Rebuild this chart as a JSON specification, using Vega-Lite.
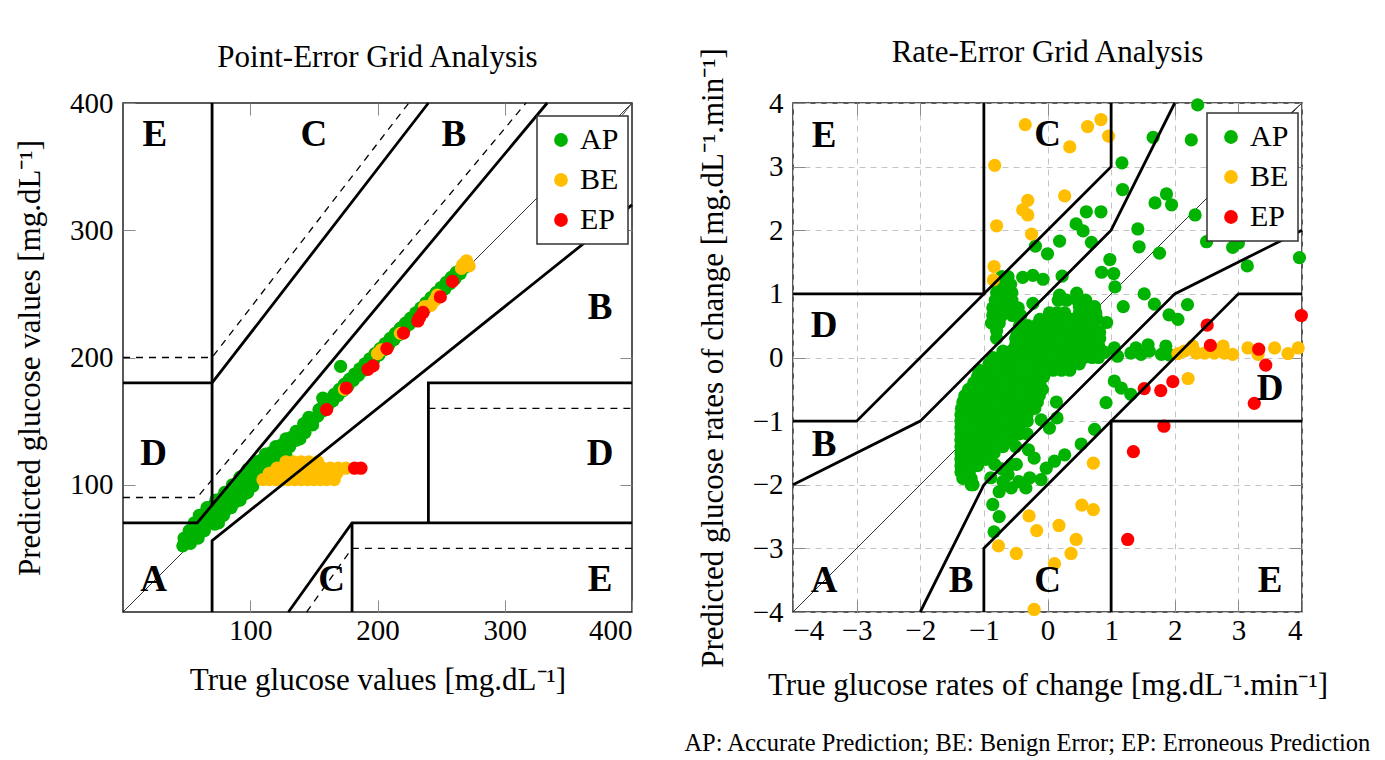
{
  "$schema": "https://vega.github.io/schema/vega-lite/v6.json",
  "description": "Point-Error and Rate-Error Grid Analysis (CG-EGA)",
  "padding": {"left": 13, "top": 35, "right": 5, "bottom": 5},
  "bounds": "flush",
  "spacing": 161,
  "title": {
    "text": "AP: Accurate Prediction; BE: Benign Error; EP: Erroneous Prediction",
    "orient": "bottom",
    "anchor": "end",
    "fontSize": 24.5,
    "offset": 31,
    "dx": 42
  },
  "datasets": {
    "pz": [
      {"s": "a", "o": 1, "x": 0, "y": 70}, {"s": "a", "o": 2, "x": 58.33, "y": 70}, {"s": "a", "o": 3, "x": 333.33, "y": 400},
      {"s": "b", "o": 1, "x": 70, "y": 84}, {"s": "b", "o": 2, "x": 70, "y": 400},
      {"s": "c", "o": 1, "x": 0, "y": 180}, {"s": "c", "o": 2, "x": 70, "y": 180}, {"s": "c", "o": 3, "x": 240, "y": 400},
      {"s": "d", "o": 1, "x": 70, "y": 0}, {"s": "d", "o": 2, "x": 70, "y": 56}, {"s": "d", "o": 3, "x": 400, "y": 320},
      {"s": "e", "o": 1, "x": 130, "y": 0}, {"s": "e", "o": 2, "x": 180, "y": 70}, {"s": "e", "o": 3, "x": 400, "y": 70},
      {"s": "f", "o": 1, "x": 180, "y": 0}, {"s": "f", "o": 2, "x": 180, "y": 70},
      {"s": "g", "o": 1, "x": 240, "y": 70}, {"s": "g", "o": 2, "x": 240, "y": 180}, {"s": "g", "o": 3, "x": 400, "y": 180}
    ],
    "pd": [
      {"s": "a", "o": 1, "x": 0, "y": 90}, {"s": "a", "o": 2, "x": 58.33, "y": 90}, {"s": "a", "o": 3, "x": 316.67, "y": 400},
      {"s": "b", "o": 1, "x": 0, "y": 200}, {"s": "b", "o": 2, "x": 70, "y": 200}, {"s": "b", "o": 3, "x": 224.6, "y": 400},
      {"s": "c", "o": 1, "x": 144.3, "y": 0}, {"s": "c", "o": 2, "x": 180, "y": 50}, {"s": "c", "o": 3, "x": 400, "y": 50},
      {"s": "d", "o": 1, "x": 240, "y": 160}, {"s": "d", "o": 2, "x": 400, "y": 160}
    ],
    "pdiag": [{"o": 1, "x": 0, "y": 0}, {"o": 2, "x": 400, "y": 400}],
    "pbox": [{"o": 1, "x": 392.5, "y": 390.5}, {"o": 2, "x": 400, "y": 400}],
    "plab": [
      {"x": 25, "y": 375, "t": "E"}, {"x": 150, "y": 375, "t": "C"}, {"x": 260, "y": 375, "t": "B"},
      {"x": 375, "y": 239, "t": "B"}, {"x": 24, "y": 124, "t": "D"}, {"x": 375, "y": 124, "t": "D"},
      {"x": 24, "y": 25, "t": "A"}, {"x": 164, "y": 25, "t": "C"}, {"x": 375, "y": 25, "t": "E"}
    ],
    "pp": [
      {"x": 47, "y": 52, "c": "AP"}, {"x": 50, "y": 55, "c": "AP"}, {"x": 53, "y": 54, "c": "AP"},
      {"x": 48, "y": 58, "c": "AP"}, {"x": 52, "y": 57, "c": "AP"}, {"x": 56, "y": 59, "c": "AP"}, {"x": 59, "y": 58, "c": "AP"},
      {"x": 52, "y": 64, "c": "AP"}, {"x": 56, "y": 65, "c": "AP"}, {"x": 60, "y": 63, "c": "AP"}, {"x": 64, "y": 64, "c": "AP"},
      {"x": 56, "y": 70, "c": "AP"}, {"x": 60, "y": 71, "c": "AP"}, {"x": 64, "y": 69, "c": "AP"}, {"x": 68, "y": 70, "c": "AP"}, {"x": 72, "y": 69, "c": "AP"}, {"x": 75, "y": 70, "c": "AP"},
      {"x": 60, "y": 76, "c": "AP"}, {"x": 64, "y": 77, "c": "AP"}, {"x": 68, "y": 75, "c": "AP"}, {"x": 72, "y": 76, "c": "AP"}, {"x": 76, "y": 75, "c": "AP"}, {"x": 79, "y": 76, "c": "AP"},
      {"x": 66, "y": 82, "c": "AP"}, {"x": 70, "y": 83, "c": "AP"}, {"x": 74, "y": 81, "c": "AP"}, {"x": 78, "y": 82, "c": "AP"}, {"x": 82, "y": 81, "c": "AP"}, {"x": 85, "y": 82, "c": "AP"},
      {"x": 73, "y": 88, "c": "AP"}, {"x": 77, "y": 89, "c": "AP"}, {"x": 81, "y": 87, "c": "AP"}, {"x": 85, "y": 88, "c": "AP"}, {"x": 89, "y": 87, "c": "AP"}, {"x": 92, "y": 88, "c": "AP"},
      {"x": 80, "y": 94, "c": "AP"}, {"x": 84, "y": 95, "c": "AP"}, {"x": 88, "y": 93, "c": "AP"}, {"x": 92, "y": 94, "c": "AP"}, {"x": 96, "y": 93, "c": "AP"}, {"x": 98, "y": 94, "c": "AP"},
      {"x": 86, "y": 100, "c": "AP"}, {"x": 90, "y": 101, "c": "AP"}, {"x": 94, "y": 99, "c": "AP"}, {"x": 98, "y": 100, "c": "AP"}, {"x": 102, "y": 99, "c": "AP"},
      {"x": 92, "y": 106, "c": "AP"}, {"x": 96, "y": 107, "c": "AP"}, {"x": 100, "y": 105, "c": "AP"}, {"x": 104, "y": 106, "c": "AP"}, {"x": 108, "y": 105, "c": "AP"},
      {"x": 98, "y": 112, "c": "AP"}, {"x": 102, "y": 113, "c": "AP"}, {"x": 106, "y": 111, "c": "AP"}, {"x": 110, "y": 112, "c": "AP"}, {"x": 114, "y": 111, "c": "AP"},
      {"x": 104, "y": 118, "c": "AP"}, {"x": 108, "y": 119, "c": "AP"}, {"x": 112, "y": 117, "c": "AP"}, {"x": 116, "y": 118, "c": "AP"}, {"x": 120, "y": 117, "c": "AP"},
      {"x": 112, "y": 124, "c": "AP"}, {"x": 116, "y": 125, "c": "AP"}, {"x": 120, "y": 123, "c": "AP"}, {"x": 124, "y": 124, "c": "AP"}, {"x": 128, "y": 123, "c": "AP"},
      {"x": 120, "y": 130, "c": "AP"}, {"x": 124, "y": 131, "c": "AP"}, {"x": 128, "y": 129, "c": "AP"}, {"x": 131, "y": 130, "c": "AP"},
      {"x": 128, "y": 136, "c": "AP"}, {"x": 132, "y": 137, "c": "AP"}, {"x": 136, "y": 135, "c": "AP"}, {"x": 139, "y": 136, "c": "AP"},
      {"x": 136, "y": 142, "c": "AP"}, {"x": 140, "y": 143, "c": "AP"}, {"x": 143, "y": 141, "c": "AP"},
      {"x": 142, "y": 148, "c": "AP"}, {"x": 146, "y": 149, "c": "AP"}, {"x": 149, "y": 147, "c": "AP"},
      {"x": 146, "y": 153, "c": "AP"}, {"x": 150, "y": 152, "c": "AP"}, {"x": 153, "y": 154, "c": "AP"},
      {"x": 154, "y": 159, "c": "AP"}, {"x": 157, "y": 158, "c": "AP"}, {"x": 158, "y": 163, "c": "AP"}, {"x": 161, "y": 162, "c": "AP"},
      {"x": 162, "y": 167, "c": "AP"}, {"x": 165, "y": 166, "c": "AP"}, {"x": 166, "y": 171, "c": "AP"}, {"x": 169, "y": 170, "c": "AP"},
      {"x": 170, "y": 175, "c": "AP"}, {"x": 173, "y": 174, "c": "AP"}, {"x": 174, "y": 179, "c": "AP"}, {"x": 177, "y": 178, "c": "AP"},
      {"x": 178, "y": 183, "c": "AP"}, {"x": 181, "y": 182, "c": "AP"}, {"x": 182, "y": 187, "c": "AP"}, {"x": 185, "y": 186, "c": "AP"},
      {"x": 186, "y": 191, "c": "AP"}, {"x": 189, "y": 190, "c": "AP"}, {"x": 190, "y": 195, "c": "AP"}, {"x": 193, "y": 194, "c": "AP"},
      {"x": 194, "y": 199, "c": "AP"}, {"x": 197, "y": 198, "c": "AP"}, {"x": 198, "y": 203, "c": "AP"}, {"x": 201, "y": 202, "c": "AP"},
      {"x": 202, "y": 207, "c": "AP"}, {"x": 205, "y": 206, "c": "AP"}, {"x": 206, "y": 211, "c": "AP"}, {"x": 209, "y": 210, "c": "AP"},
      {"x": 210, "y": 215, "c": "AP"}, {"x": 213, "y": 214, "c": "AP"}, {"x": 214, "y": 219, "c": "AP"}, {"x": 217, "y": 218, "c": "AP"},
      {"x": 218, "y": 223, "c": "AP"}, {"x": 221, "y": 222, "c": "AP"}, {"x": 222, "y": 227, "c": "AP"}, {"x": 225, "y": 226, "c": "AP"},
      {"x": 226, "y": 231, "c": "AP"}, {"x": 229, "y": 230, "c": "AP"}, {"x": 230, "y": 235, "c": "AP"}, {"x": 233, "y": 234, "c": "AP"},
      {"x": 234, "y": 239, "c": "AP"}, {"x": 237, "y": 238, "c": "AP"}, {"x": 238, "y": 243, "c": "AP"}, {"x": 241, "y": 242, "c": "AP"},
      {"x": 242, "y": 247, "c": "AP"}, {"x": 245, "y": 246, "c": "AP"}, {"x": 246, "y": 251, "c": "AP"}, {"x": 249, "y": 250, "c": "AP"},
      {"x": 250, "y": 255, "c": "AP"}, {"x": 253, "y": 254, "c": "AP"}, {"x": 254, "y": 259, "c": "AP"}, {"x": 257, "y": 258, "c": "AP"},
      {"x": 258, "y": 263, "c": "AP"}, {"x": 261, "y": 262, "c": "AP"}, {"x": 262, "y": 267, "c": "AP"}, {"x": 265, "y": 266, "c": "AP"},
      {"x": 266, "y": 270, "c": "AP"}, {"x": 269, "y": 271, "c": "AP"},
      {"x": 157, "y": 168, "c": "AP"}, {"x": 171, "y": 193, "c": "AP"},
      {"x": 110, "y": 104, "c": "BE"}, {"x": 115, "y": 104, "c": "BE"}, {"x": 120, "y": 104, "c": "BE"}, {"x": 125, "y": 104, "c": "BE"},
      {"x": 130, "y": 104, "c": "BE"}, {"x": 135, "y": 104, "c": "BE"}, {"x": 140, "y": 104, "c": "BE"}, {"x": 145, "y": 104, "c": "BE"},
      {"x": 150, "y": 104, "c": "BE"}, {"x": 155, "y": 104, "c": "BE"}, {"x": 160, "y": 104, "c": "BE"}, {"x": 166, "y": 104, "c": "BE"},
      {"x": 115, "y": 109, "c": "BE"}, {"x": 121, "y": 109, "c": "BE"}, {"x": 127, "y": 109, "c": "BE"}, {"x": 133, "y": 109, "c": "BE"},
      {"x": 139, "y": 109, "c": "BE"}, {"x": 145, "y": 109, "c": "BE"}, {"x": 151, "y": 109, "c": "BE"}, {"x": 157, "y": 109, "c": "BE"},
      {"x": 163, "y": 109, "c": "BE"}, {"x": 168, "y": 109, "c": "BE"},
      {"x": 121, "y": 113, "c": "BE"}, {"x": 127, "y": 113, "c": "BE"}, {"x": 133, "y": 113, "c": "BE"}, {"x": 139, "y": 113, "c": "BE"},
      {"x": 145, "y": 113, "c": "BE"}, {"x": 151, "y": 113, "c": "BE"}, {"x": 157, "y": 113, "c": "BE"}, {"x": 163, "y": 113, "c": "BE"},
      {"x": 169, "y": 113, "c": "BE"}, {"x": 175, "y": 113, "c": "BE"},
      {"x": 128, "y": 118, "c": "BE"}, {"x": 134, "y": 118, "c": "BE"}, {"x": 140, "y": 118, "c": "BE"}, {"x": 146, "y": 118, "c": "BE"},
      {"x": 153, "y": 118, "c": "BE"},
      {"x": 174, "y": 175, "c": "BE"}, {"x": 200, "y": 203, "c": "BE"}, {"x": 203, "y": 206, "c": "BE"}, {"x": 218, "y": 219, "c": "BE"},
      {"x": 237, "y": 240, "c": "BE"}, {"x": 242, "y": 241, "c": "BE"}, {"x": 245, "y": 245, "c": "BE"}, {"x": 247, "y": 249, "c": "BE"},
      {"x": 266, "y": 270, "c": "BE"}, {"x": 269, "y": 274, "c": "BE"}, {"x": 272, "y": 272, "c": "BE"}, {"x": 270, "y": 276, "c": "BE"},
      {"x": 267, "y": 273, "c": "BE"},
      {"x": 160, "y": 159, "c": "EP"}, {"x": 175.5, "y": 176, "c": "EP"}, {"x": 192.5, "y": 190.7, "c": "EP"}, {"x": 196.5, "y": 193.4, "c": "EP"},
      {"x": 207.4, "y": 207, "c": "EP"}, {"x": 220.4, "y": 219.2, "c": "EP"}, {"x": 231.7, "y": 228.7, "c": "EP"}, {"x": 233, "y": 231.3, "c": "EP"},
      {"x": 235.8, "y": 235.4, "c": "EP"}, {"x": 249.4, "y": 247.6, "c": "EP"}, {"x": 258.9, "y": 259.8, "c": "EP"},
      {"x": 182, "y": 113, "c": "EP"}, {"x": 187, "y": 113, "c": "EP"}
    ],
    "rz": [
      {"s": "a", "o": 1, "x": -1, "y": 4}, {"s": "a", "o": 2, "x": -1, "y": 1}, {"s": "a", "o": 3, "x": -4, "y": 1},
      {"s": "b", "o": 1, "x": 1, "y": 4}, {"s": "b", "o": 2, "x": 1, "y": 3}, {"s": "b", "o": 3, "x": -3, "y": -1}, {"s": "b", "o": 4, "x": -4, "y": -1},
      {"s": "c", "o": 1, "x": 2, "y": 4}, {"s": "c", "o": 2, "x": 1, "y": 2}, {"s": "c", "o": 3, "x": -2, "y": -1}, {"s": "c", "o": 4, "x": -4, "y": -2},
      {"s": "d", "o": 1, "x": 4, "y": 2}, {"s": "d", "o": 2, "x": 2, "y": 1}, {"s": "d", "o": 3, "x": -1, "y": -2}, {"s": "d", "o": 4, "x": -2, "y": -4},
      {"s": "e", "o": 1, "x": 4, "y": 1}, {"s": "e", "o": 2, "x": 3, "y": 1}, {"s": "e", "o": 3, "x": -1, "y": -3}, {"s": "e", "o": 4, "x": -1, "y": -4},
      {"s": "f", "o": 1, "x": 1, "y": -4}, {"s": "f", "o": 2, "x": 1, "y": -1}, {"s": "f", "o": 3, "x": 4, "y": -1}
    ],
    "rdiag": [{"o": 1, "x": -4, "y": -4}, {"o": 2, "x": 4, "y": 4}],
    "rbox": [{"o": 1, "x": 3.82, "y": 3.84}, {"o": 2, "x": 4, "y": 4}],
    "rlab": [
      {"x": -3.51, "y": 3.48, "t": "E"}, {"x": 0, "y": 3.5, "t": "C"}, {"x": -3.51, "y": 0.49, "t": "D"},
      {"x": -3.51, "y": -1.37, "t": "B"}, {"x": -3.51, "y": -3.51, "t": "A"}, {"x": -1.36, "y": -3.51, "t": "B"},
      {"x": 0, "y": -3.51, "t": "C"}, {"x": 3.5, "y": -3.51, "t": "E"}, {"x": 3.5, "y": -0.5, "t": "D"}
    ],
    "rp": [
      {"x": -0.72, "y": 1.27, "c": "AP"}, {"x": -0.62, "y": 1.27, "c": "AP"},
      {"x": -0.78, "y": 1.15, "c": "AP"}, {"x": -0.68, "y": 1.15, "c": "AP"}, {"x": -0.58, "y": 1.15, "c": "AP"},
      {"x": -0.8, "y": 1.02, "c": "AP"}, {"x": -0.68, "y": 1.02, "c": "AP"}, {"x": -0.56, "y": 1.02, "c": "AP"},
      {"x": -0.82, "y": 0.9, "c": "AP"}, {"x": -0.7, "y": 0.9, "c": "AP"}, {"x": -0.56, "y": 0.9, "c": "AP"},
      {"x": -0.86, "y": 0.78, "c": "AP"}, {"x": -0.74, "y": 0.78, "c": "AP"}, {"x": -0.6, "y": 0.78, "c": "AP"}, {"x": -0.46, "y": 0.78, "c": "AP"},
      {"x": -0.86, "y": 0.66, "c": "AP"}, {"x": -0.72, "y": 0.66, "c": "AP"}, {"x": -0.55, "y": 0.66, "c": "AP"}, {"x": -0.42, "y": 0.66, "c": "AP"},
      {"x": -0.88, "y": 0.54, "c": "AP"}, {"x": -0.76, "y": 0.54, "c": "AP"}, {"x": -0.8, "y": 0.42, "c": "AP"}, {"x": -0.8, "y": 0.3, "c": "AP"},
      {"x": 0.17, "y": 0.9, "c": "AP"}, {"x": 0.3, "y": 0.9, "c": "AP"}, {"x": 0.47, "y": 0.9, "c": "AP"}, {"x": 0.6, "y": 0.9, "c": "AP"},
      {"x": 0.5, "y": 0.8, "c": "AP"}, {"x": 0.63, "y": 0.8, "c": "AP"}, {"x": 0.74, "y": 0.8, "c": "AP"},
      {"x": 0.03, "y": 0.7, "c": "AP"}, {"x": 0.15, "y": 0.7, "c": "AP"}, {"x": 0.27, "y": 0.7, "c": "AP"}, {"x": 0.5, "y": 0.7, "c": "AP"}, {"x": 0.63, "y": 0.7, "c": "AP"}, {"x": 0.76, "y": 0.7, "c": "AP"},
      {"x": -0.12, "y": 0.6, "c": "AP"}, {"x": 0.0, "y": 0.6, "c": "AP"}, {"x": 0.13, "y": 0.6, "c": "AP"}, {"x": 0.26, "y": 0.6, "c": "AP"}, {"x": 0.39, "y": 0.6, "c": "AP"}, {"x": 0.52, "y": 0.6, "c": "AP"}, {"x": 0.65, "y": 0.6, "c": "AP"}, {"x": 0.78, "y": 0.6, "c": "AP"},
      {"x": -0.44, "y": 0.5, "c": "AP"}, {"x": -0.31, "y": 0.5, "c": "AP"}, {"x": -0.18, "y": 0.5, "c": "AP"}, {"x": -0.05, "y": 0.5, "c": "AP"}, {"x": 0.08, "y": 0.5, "c": "AP"}, {"x": 0.21, "y": 0.5, "c": "AP"}, {"x": 0.34, "y": 0.5, "c": "AP"}, {"x": 0.47, "y": 0.5, "c": "AP"}, {"x": 0.6, "y": 0.5, "c": "AP"}, {"x": 0.73, "y": 0.5, "c": "AP"},
      {"x": -0.48, "y": 0.4, "c": "AP"}, {"x": -0.35, "y": 0.4, "c": "AP"}, {"x": -0.22, "y": 0.4, "c": "AP"}, {"x": -0.09, "y": 0.4, "c": "AP"}, {"x": 0.04, "y": 0.4, "c": "AP"}, {"x": 0.17, "y": 0.4, "c": "AP"}, {"x": 0.3, "y": 0.4, "c": "AP"}, {"x": 0.43, "y": 0.4, "c": "AP"}, {"x": 0.56, "y": 0.4, "c": "AP"}, {"x": 0.69, "y": 0.4, "c": "AP"}, {"x": 0.82, "y": 0.4, "c": "AP"},
      {"x": -0.5, "y": 0.3, "c": "AP"}, {"x": -0.37, "y": 0.3, "c": "AP"}, {"x": -0.24, "y": 0.3, "c": "AP"}, {"x": -0.11, "y": 0.3, "c": "AP"}, {"x": 0.02, "y": 0.3, "c": "AP"}, {"x": 0.15, "y": 0.3, "c": "AP"}, {"x": 0.28, "y": 0.3, "c": "AP"}, {"x": 0.41, "y": 0.3, "c": "AP"}, {"x": 0.54, "y": 0.3, "c": "AP"}, {"x": 0.67, "y": 0.3, "c": "AP"}, {"x": 0.82, "y": 0.3, "c": "AP"},
      {"x": -0.5, "y": 0.2, "c": "AP"}, {"x": -0.37, "y": 0.2, "c": "AP"}, {"x": -0.24, "y": 0.2, "c": "AP"}, {"x": -0.11, "y": 0.2, "c": "AP"}, {"x": 0.02, "y": 0.2, "c": "AP"}, {"x": 0.15, "y": 0.2, "c": "AP"}, {"x": 0.28, "y": 0.2, "c": "AP"}, {"x": 0.41, "y": 0.2, "c": "AP"}, {"x": 0.54, "y": 0.2, "c": "AP"}, {"x": 0.67, "y": 0.2, "c": "AP"}, {"x": 0.8, "y": 0.2, "c": "AP"},
      {"x": -0.7, "y": 0.1, "c": "AP"}, {"x": -0.57, "y": 0.1, "c": "AP"}, {"x": -0.44, "y": 0.1, "c": "AP"}, {"x": -0.31, "y": 0.1, "c": "AP"}, {"x": -0.18, "y": 0.1, "c": "AP"}, {"x": -0.05, "y": 0.1, "c": "AP"}, {"x": 0.08, "y": 0.1, "c": "AP"}, {"x": 0.21, "y": 0.1, "c": "AP"}, {"x": 0.34, "y": 0.1, "c": "AP"}, {"x": 0.47, "y": 0.1, "c": "AP"}, {"x": 0.6, "y": 0.1, "c": "AP"}, {"x": 0.73, "y": 0.1, "c": "AP"}, {"x": 0.86, "y": 0.1, "c": "AP"},
      {"x": -0.86, "y": 0.0, "c": "AP"}, {"x": -0.73, "y": 0.0, "c": "AP"}, {"x": -0.6, "y": 0.0, "c": "AP"}, {"x": -0.47, "y": 0.0, "c": "AP"}, {"x": -0.34, "y": 0.0, "c": "AP"}, {"x": -0.21, "y": 0.0, "c": "AP"}, {"x": -0.08, "y": 0.0, "c": "AP"}, {"x": 0.05, "y": 0.0, "c": "AP"}, {"x": 0.18, "y": 0.0, "c": "AP"}, {"x": 0.31, "y": 0.0, "c": "AP"}, {"x": 0.44, "y": 0.0, "c": "AP"}, {"x": 0.57, "y": 0.0, "c": "AP"}, {"x": 0.7, "y": 0.0, "c": "AP"}, {"x": 0.8, "y": 0.0, "c": "AP"},
      {"x": -0.92, "y": -0.1, "c": "AP"}, {"x": -0.79, "y": -0.1, "c": "AP"}, {"x": -0.66, "y": -0.1, "c": "AP"}, {"x": -0.53, "y": -0.1, "c": "AP"}, {"x": -0.4, "y": -0.1, "c": "AP"}, {"x": -0.27, "y": -0.1, "c": "AP"}, {"x": -0.14, "y": -0.1, "c": "AP"}, {"x": -0.01, "y": -0.1, "c": "AP"}, {"x": 0.12, "y": -0.1, "c": "AP"}, {"x": 0.25, "y": -0.1, "c": "AP"}, {"x": 0.38, "y": -0.1, "c": "AP"}, {"x": 0.5, "y": -0.1, "c": "AP"},
      {"x": -1.08, "y": -0.2, "c": "AP"}, {"x": -0.95, "y": -0.2, "c": "AP"}, {"x": -0.82, "y": -0.2, "c": "AP"}, {"x": -0.69, "y": -0.2, "c": "AP"}, {"x": -0.56, "y": -0.2, "c": "AP"}, {"x": -0.43, "y": -0.2, "c": "AP"}, {"x": -0.3, "y": -0.2, "c": "AP"}, {"x": -0.17, "y": -0.2, "c": "AP"}, {"x": -0.04, "y": -0.2, "c": "AP"}, {"x": 0.09, "y": -0.2, "c": "AP"}, {"x": 0.22, "y": -0.2, "c": "AP"}, {"x": 0.35, "y": -0.2, "c": "AP"},
      {"x": -1.1, "y": -0.3, "c": "AP"}, {"x": -0.97, "y": -0.3, "c": "AP"}, {"x": -0.84, "y": -0.3, "c": "AP"}, {"x": -0.71, "y": -0.3, "c": "AP"}, {"x": -0.58, "y": -0.3, "c": "AP"}, {"x": -0.45, "y": -0.3, "c": "AP"}, {"x": -0.32, "y": -0.3, "c": "AP"}, {"x": -0.19, "y": -0.3, "c": "AP"}, {"x": -0.06, "y": -0.3, "c": "AP"},
      {"x": -1.16, "y": -0.4, "c": "AP"}, {"x": -1.03, "y": -0.4, "c": "AP"}, {"x": -0.9, "y": -0.4, "c": "AP"}, {"x": -0.77, "y": -0.4, "c": "AP"}, {"x": -0.64, "y": -0.4, "c": "AP"}, {"x": -0.51, "y": -0.4, "c": "AP"}, {"x": -0.38, "y": -0.4, "c": "AP"}, {"x": -0.25, "y": -0.4, "c": "AP"}, {"x": -0.12, "y": -0.4, "c": "AP"},
      {"x": -1.24, "y": -0.5, "c": "AP"}, {"x": -1.11, "y": -0.5, "c": "AP"}, {"x": -0.98, "y": -0.5, "c": "AP"}, {"x": -0.85, "y": -0.5, "c": "AP"}, {"x": -0.72, "y": -0.5, "c": "AP"}, {"x": -0.59, "y": -0.5, "c": "AP"}, {"x": -0.46, "y": -0.5, "c": "AP"}, {"x": -0.33, "y": -0.5, "c": "AP"}, {"x": -0.2, "y": -0.5, "c": "AP"}, {"x": -0.08, "y": -0.5, "c": "AP"},
      {"x": -1.3, "y": -0.6, "c": "AP"}, {"x": -1.17, "y": -0.6, "c": "AP"}, {"x": -1.04, "y": -0.6, "c": "AP"}, {"x": -0.91, "y": -0.6, "c": "AP"}, {"x": -0.78, "y": -0.6, "c": "AP"}, {"x": -0.65, "y": -0.6, "c": "AP"}, {"x": -0.52, "y": -0.6, "c": "AP"}, {"x": -0.39, "y": -0.6, "c": "AP"}, {"x": -0.26, "y": -0.6, "c": "AP"}, {"x": -0.13, "y": -0.6, "c": "AP"},
      {"x": -1.33, "y": -0.7, "c": "AP"}, {"x": -1.2, "y": -0.7, "c": "AP"}, {"x": -1.07, "y": -0.7, "c": "AP"}, {"x": -0.94, "y": -0.7, "c": "AP"}, {"x": -0.81, "y": -0.7, "c": "AP"}, {"x": -0.68, "y": -0.7, "c": "AP"}, {"x": -0.55, "y": -0.7, "c": "AP"}, {"x": -0.42, "y": -0.7, "c": "AP"}, {"x": -0.29, "y": -0.7, "c": "AP"}, {"x": -0.16, "y": -0.7, "c": "AP"},
      {"x": -1.35, "y": -0.8, "c": "AP"}, {"x": -1.22, "y": -0.8, "c": "AP"}, {"x": -1.09, "y": -0.8, "c": "AP"}, {"x": -0.96, "y": -0.8, "c": "AP"}, {"x": -0.83, "y": -0.8, "c": "AP"}, {"x": -0.7, "y": -0.8, "c": "AP"}, {"x": -0.57, "y": -0.8, "c": "AP"}, {"x": -0.44, "y": -0.8, "c": "AP"}, {"x": -0.31, "y": -0.8, "c": "AP"}, {"x": -0.2, "y": -0.8, "c": "AP"},
      {"x": -1.36, "y": -0.9, "c": "AP"}, {"x": -1.23, "y": -0.9, "c": "AP"}, {"x": -1.1, "y": -0.9, "c": "AP"}, {"x": -0.97, "y": -0.9, "c": "AP"}, {"x": -0.84, "y": -0.9, "c": "AP"}, {"x": -0.71, "y": -0.9, "c": "AP"}, {"x": -0.58, "y": -0.9, "c": "AP"}, {"x": -0.45, "y": -0.9, "c": "AP"}, {"x": -0.32, "y": -0.9, "c": "AP"},
      {"x": -1.36, "y": -1.0, "c": "AP"}, {"x": -1.23, "y": -1.0, "c": "AP"}, {"x": -1.1, "y": -1.0, "c": "AP"}, {"x": -0.97, "y": -1.0, "c": "AP"}, {"x": -0.84, "y": -1.0, "c": "AP"}, {"x": -0.71, "y": -1.0, "c": "AP"}, {"x": -0.58, "y": -1.0, "c": "AP"}, {"x": -0.45, "y": -1.0, "c": "AP"}, {"x": -0.32, "y": -1.0, "c": "AP"},
      {"x": -1.36, "y": -1.1, "c": "AP"}, {"x": -1.23, "y": -1.1, "c": "AP"}, {"x": -1.1, "y": -1.1, "c": "AP"}, {"x": -0.97, "y": -1.1, "c": "AP"}, {"x": -0.84, "y": -1.1, "c": "AP"}, {"x": -0.71, "y": -1.1, "c": "AP"}, {"x": -0.58, "y": -1.1, "c": "AP"}, {"x": -0.45, "y": -1.1, "c": "AP"},
      {"x": -1.36, "y": -1.2, "c": "AP"}, {"x": -1.23, "y": -1.2, "c": "AP"}, {"x": -1.1, "y": -1.2, "c": "AP"}, {"x": -0.97, "y": -1.2, "c": "AP"}, {"x": -0.84, "y": -1.2, "c": "AP"}, {"x": -0.71, "y": -1.2, "c": "AP"}, {"x": -0.58, "y": -1.2, "c": "AP"}, {"x": -0.45, "y": -1.2, "c": "AP"}, {"x": -0.32, "y": -1.2, "c": "AP"},
      {"x": -1.36, "y": -1.3, "c": "AP"}, {"x": -1.23, "y": -1.3, "c": "AP"}, {"x": -1.1, "y": -1.3, "c": "AP"}, {"x": -0.97, "y": -1.3, "c": "AP"}, {"x": -0.84, "y": -1.3, "c": "AP"}, {"x": -0.7, "y": -1.3, "c": "AP"}, {"x": -0.57, "y": -1.3, "c": "AP"},
      {"x": -1.36, "y": -1.4, "c": "AP"}, {"x": -1.23, "y": -1.4, "c": "AP"}, {"x": -1.1, "y": -1.4, "c": "AP"}, {"x": -0.97, "y": -1.4, "c": "AP"}, {"x": -0.84, "y": -1.4, "c": "AP"}, {"x": -0.7, "y": -1.4, "c": "AP"},
      {"x": -1.36, "y": -1.5, "c": "AP"}, {"x": -1.23, "y": -1.5, "c": "AP"}, {"x": -1.1, "y": -1.5, "c": "AP"}, {"x": -0.97, "y": -1.5, "c": "AP"}, {"x": -0.84, "y": -1.5, "c": "AP"},
      {"x": -1.36, "y": -1.6, "c": "AP"}, {"x": -1.23, "y": -1.6, "c": "AP"}, {"x": -1.1, "y": -1.6, "c": "AP"}, {"x": -0.97, "y": -1.6, "c": "AP"},
      {"x": -1.36, "y": -1.7, "c": "AP"}, {"x": -1.23, "y": -1.7, "c": "AP"}, {"x": -1.1, "y": -1.7, "c": "AP"},
      {"x": -1.36, "y": -1.8, "c": "AP"}, {"x": -1.23, "y": -1.8, "c": "AP"}, {"x": -1.33, "y": -1.9, "c": "AP"}, {"x": -1.2, "y": -1.9, "c": "AP"}, {"x": -1.2, "y": -2.0, "c": "AP"},
      {"x": 2.36, "y": 3.97, "c": "AP"}, {"x": 1.66, "y": 3.46, "c": "AP"}, {"x": 2.26, "y": 3.42, "c": "AP"}, {"x": 1.17, "y": 3.06, "c": "AP"},
      {"x": 1.18, "y": 2.64, "c": "AP"}, {"x": 1.69, "y": 2.43, "c": "AP"}, {"x": 1.87, "y": 2.57, "c": "AP"}, {"x": 1.95, "y": 2.4, "c": "AP"},
      {"x": 2.32, "y": 2.24, "c": "AP"}, {"x": 1.42, "y": 2.02, "c": "AP"}, {"x": 1.44, "y": 1.74, "c": "AP"}, {"x": 1.76, "y": 1.64, "c": "AP"},
      {"x": 2.5, "y": 1.82, "c": "AP"}, {"x": 2.91, "y": 1.73, "c": "AP"}, {"x": 3.0, "y": 1.8, "c": "AP"}, {"x": 3.14, "y": 1.44, "c": "AP"},
      {"x": 3.96, "y": 1.57, "c": "AP"}, {"x": 0.98, "y": 1.54, "c": "AP"}, {"x": 0.85, "y": 1.34, "c": "AP"}, {"x": 1.04, "y": 1.32, "c": "AP"},
      {"x": 1.06, "y": 1.11, "c": "AP"}, {"x": 1.52, "y": 1.0, "c": "AP"}, {"x": 1.68, "y": 0.84, "c": "AP"}, {"x": 1.19, "y": 0.8, "c": "AP"},
      {"x": 2.2, "y": 0.83, "c": "AP"}, {"x": 1.91, "y": 0.67, "c": "AP"}, {"x": 2.05, "y": 0.6, "c": "AP"}, {"x": 0.93, "y": 0.55, "c": "AP"},
      {"x": 1.05, "y": 0.15, "c": "AP"}, {"x": 1.1, "y": 0.02, "c": "AP"}, {"x": 1.31, "y": 0.07, "c": "AP"}, {"x": 1.39, "y": 0.15, "c": "AP"},
      {"x": 1.47, "y": 0.05, "c": "AP"}, {"x": 1.58, "y": 0.2, "c": "AP"}, {"x": 1.6, "y": 0.1, "c": "AP"}, {"x": 1.79, "y": 0.05, "c": "AP"},
      {"x": 1.86, "y": 0.18, "c": "AP"}, {"x": 1.92, "y": 0.04, "c": "AP"}, {"x": 0.9, "y": 0.08, "c": "AP"},
      {"x": 1.05, "y": -0.37, "c": "AP"}, {"x": 1.16, "y": -0.48, "c": "AP"}, {"x": 1.31, "y": -0.58, "c": "AP"}, {"x": 0.92, "y": -0.71, "c": "AP"},
      {"x": 0.14, "y": -0.7, "c": "AP"}, {"x": 0.03, "y": -1.11, "c": "AP"}, {"x": -0.1, "y": -0.98, "c": "AP"}, {"x": 0.74, "y": -1.13, "c": "AP"},
      {"x": 0.53, "y": -1.36, "c": "AP"}, {"x": 0.27, "y": -1.53, "c": "AP"}, {"x": 0.11, "y": -1.63, "c": "AP"}, {"x": -0.02, "y": -1.74, "c": "AP"},
      {"x": -0.21, "y": -1.58, "c": "AP"}, {"x": -0.1, "y": -1.92, "c": "AP"}, {"x": -0.28, "y": -1.89, "c": "AP"}, {"x": -0.34, "y": -2.05, "c": "AP"},
      {"x": -0.57, "y": -1.68, "c": "AP"}, {"x": -0.49, "y": -1.68, "c": "AP"}, {"x": -0.62, "y": -1.84, "c": "AP"}, {"x": -0.57, "y": -2.05, "c": "AP"},
      {"x": -0.83, "y": -1.68, "c": "AP"}, {"x": -0.89, "y": -1.89, "c": "AP"}, {"x": -0.76, "y": -2.11, "c": "AP"}, {"x": -0.86, "y": -2.31, "c": "AP"},
      {"x": -0.76, "y": -2.5, "c": "AP"}, {"x": -0.84, "y": -2.74, "c": "AP"}, {"x": -1.17, "y": -2.0, "c": "AP"}, {"x": -1.28, "y": -1.84, "c": "AP"},
      {"x": -0.42, "y": -1.19, "c": "AP"}, {"x": -0.65, "y": -1.27, "c": "AP"}, {"x": -0.5, "y": -1.4, "c": "AP"}, {"x": -0.3, "y": -1.45, "c": "AP"},
      {"x": -0.72, "y": -1.75, "c": "AP"}, {"x": -0.7, "y": -1.95, "c": "AP"}, {"x": -0.45, "y": -1.95, "c": "AP"}, {"x": 0.15, "y": -0.95, "c": "AP"},
      {"x": -0.19, "y": 1.75, "c": "AP"}, {"x": 0.0, "y": 1.63, "c": "AP"}, {"x": 0.19, "y": 1.83, "c": "AP"}, {"x": 0.45, "y": 2.1, "c": "AP"},
      {"x": 0.61, "y": 2.29, "c": "AP"}, {"x": 0.84, "y": 2.29, "c": "AP"}, {"x": 0.56, "y": 1.99, "c": "AP"}, {"x": 0.69, "y": 1.81, "c": "AP"},
      {"x": -0.39, "y": 1.26, "c": "AP"}, {"x": -0.23, "y": 1.29, "c": "AP"}, {"x": -0.07, "y": 1.23, "c": "AP"}, {"x": 0.23, "y": 1.28, "c": "AP"},
      {"x": 0.46, "y": 1.01, "c": "AP"}, {"x": -0.23, "y": 0.85, "c": "AP"}, {"x": 0.19, "y": 0.98, "c": "AP"},
      {"x": -0.35, "y": 3.66, "c": "BE"}, {"x": 0.63, "y": 3.63, "c": "BE"}, {"x": 0.84, "y": 3.74, "c": "BE"}, {"x": 0.96, "y": 3.48, "c": "BE"},
      {"x": 0.35, "y": 3.31, "c": "BE"}, {"x": -0.83, "y": 3.02, "c": "BE"}, {"x": 0.27, "y": 2.54, "c": "BE"}, {"x": -0.31, "y": 2.47, "c": "BE"},
      {"x": -0.39, "y": 2.32, "c": "BE"}, {"x": -0.31, "y": 2.24, "c": "BE"}, {"x": -0.8, "y": 2.07, "c": "BE"}, {"x": -0.25, "y": 1.94, "c": "BE"},
      {"x": -0.84, "y": 1.43, "c": "BE"}, {"x": -0.85, "y": 1.22, "c": "BE"},
      {"x": 0.72, "y": -1.66, "c": "BE"}, {"x": 0.54, "y": -2.32, "c": "BE"}, {"x": 0.72, "y": -2.39, "c": "BE"}, {"x": -0.29, "y": -2.49, "c": "BE"},
      {"x": -0.17, "y": -2.72, "c": "BE"}, {"x": 0.18, "y": -2.64, "c": "BE"}, {"x": 0.45, "y": -2.86, "c": "BE"}, {"x": 0.37, "y": -3.08, "c": "BE"},
      {"x": -0.77, "y": -2.96, "c": "BE"}, {"x": -0.49, "y": -3.08, "c": "BE"}, {"x": 0.11, "y": -3.24, "c": "BE"}, {"x": -0.21, "y": -3.96, "c": "BE"},
      {"x": 2.05, "y": 0.06, "c": "BE"}, {"x": 2.15, "y": 0.1, "c": "BE"}, {"x": 2.28, "y": 0.18, "c": "BE"}, {"x": 2.34, "y": 0.07, "c": "BE"},
      {"x": 2.47, "y": 0.07, "c": "BE"}, {"x": 2.55, "y": 0.12, "c": "BE"}, {"x": 2.62, "y": 0.07, "c": "BE"}, {"x": 2.7, "y": 0.12, "c": "BE"},
      {"x": 2.76, "y": 0.18, "c": "BE"}, {"x": 2.78, "y": 0.07, "c": "BE"}, {"x": 2.91, "y": 0.05, "c": "BE"}, {"x": 3.15, "y": 0.15, "c": "BE"},
      {"x": 3.31, "y": 0.05, "c": "BE"}, {"x": 3.57, "y": 0.15, "c": "BE"}, {"x": 3.78, "y": 0.06, "c": "BE"}, {"x": 3.94, "y": 0.15, "c": "BE"},
      {"x": 2.21, "y": -0.33, "c": "BE"},
      {"x": 3.99, "y": 0.66, "c": "EP"}, {"x": 2.51, "y": 0.51, "c": "EP"}, {"x": 2.56, "y": 0.19, "c": "EP"}, {"x": 3.32, "y": 0.13, "c": "EP"},
      {"x": 3.43, "y": -0.12, "c": "EP"}, {"x": 3.25, "y": -0.72, "c": "EP"}, {"x": 1.52, "y": -0.49, "c": "EP"}, {"x": 1.78, "y": -0.52, "c": "EP"},
      {"x": 1.97, "y": -0.38, "c": "EP"}, {"x": 1.83, "y": -1.08, "c": "EP"}, {"x": 1.35, "y": -1.48, "c": "EP"}, {"x": 1.26, "y": -2.86, "c": "EP"}
    ]
  },
  "resolve": {"scale": {"color": "independent"}, "legend": {"color": "independent"}},
  "hconcat": [
    {
      "width": 509,
      "height": 509,
      "title": {"text": "Point-Error Grid Analysis", "offset": 15},
      "encoding": {
        "x": {"field": "x", "type": "quantitative", "scale": {"domain": [0, 400], "nice": false, "zero": false}, "axis": null},
        "y": {"field": "y", "type": "quantitative", "scale": {"domain": [0, 400], "nice": false, "zero": false}, "axis": null}
      },
      "layer": [
        {
          "data": {"name": "pdiag"},
          "mark": {"type": "line", "color": "black", "strokeWidth": 0.8},
          "encoding": {
            "order": {"field": "o"},
            "x": {"field": "x", "type": "quantitative", "scale": {"domain": [0, 400], "nice": false, "zero": false},
                  "axis": {"orient": "top", "values": [100, 200, 300], "labels": false, "title": null}},
            "y": {"field": "y", "type": "quantitative", "scale": {"domain": [0, 400], "nice": false, "zero": false},
                  "axis": {"orient": "right", "values": [100, 200, 300], "labels": false, "title": null}}
          }
        },
        {
          "data": {"name": "pp"},
          "mark": {"type": "circle", "size": 175, "opacity": 1},
          "encoding": {
            "x": {"field": "x", "type": "quantitative", "scale": {"domain": [0, 400], "nice": false, "zero": false},
                  "axis": {"orient": "bottom", "values": [100, 200, 300, 400], "labelPadding": 16, "titlePadding": 20, "title": "True glucose values [mg.dL⁻¹]"}},
            "y": {"field": "y", "type": "quantitative", "scale": {"domain": [0, 400], "nice": false, "zero": false},
                  "axis": {"orient": "left", "values": [100, 200, 300, 400], "labelPadding": 22, "titlePadding": 23, "title": "Predicted glucose values [mg.dL⁻¹]"}},
            "color": {
              "field": "c", "type": "nominal",
              "scale": {"domain": ["AP", "BE", "EP"], "range": ["#00b300", "#ffbf00", "#ff0000"]},
              "legend": {"orient": "none", "legendX": 414, "legendY": 13}
            }
          }
        },
        {
          "data": {"name": "pd"},
          "mark": {"type": "line", "color": "black", "strokeWidth": 1.3, "strokeDash": [7, 6]},
          "encoding": {"detail": {"field": "s"}, "order": {"field": "o"}}
        },
        {
          "data": {"name": "pz"},
          "mark": {"type": "line", "color": "black", "strokeWidth": 2.8},
          "encoding": {"detail": {"field": "s"}, "order": {"field": "o"}}
        },
        {
          "data": {"name": "pbox"},
          "mark": {"type": "line", "color": "#444", "strokeWidth": 1},
          "encoding": {"order": {"field": "o"}}
        },
        {
          "data": {"name": "plab"},
          "mark": {"type": "text", "font": "Liberation Serif", "fontSize": 37, "fontWeight": "bold", "align": "center", "baseline": "middle", "color": "black"},
          "encoding": {"text": {"field": "t"}}
        }
      ]
    },
    {
      "width": 509,
      "height": 509,
      "title": {"text": "Rate-Error Grid Analysis", "offset": -21},
      "encoding": {
        "x": {"field": "x", "type": "quantitative", "scale": {"domain": [-4, 4], "nice": false, "zero": false}, "axis": null},
        "y": {"field": "y", "type": "quantitative", "scale": {"domain": [-4, 4], "nice": false, "zero": false}, "axis": null}
      },
      "layer": [
        {
          "data": {"name": "rdiag"},
          "mark": {"type": "line", "color": "black", "strokeWidth": 0.8},
          "encoding": {
            "order": {"field": "o"},
            "x": {"field": "x", "type": "quantitative", "scale": {"domain": [-4, 4], "nice": false, "zero": false},
                  "axis": {"orient": "top", "values": [-3, -2, -1, 0, 1, 2, 3], "labels": false, "title": null}},
            "y": {"field": "y", "type": "quantitative", "scale": {"domain": [-4, 4], "nice": false, "zero": false},
                  "axis": {"orient": "right", "values": [-3, -2, -1, 0, 1, 2, 3], "labels": false, "title": null}}
          }
        },
        {
          "data": {"name": "rp"},
          "mark": {"type": "circle", "size": 175, "opacity": 1},
          "encoding": {
            "x": {"field": "x", "type": "quantitative", "scale": {"domain": [-4, 4], "nice": false, "zero": false},
                  "axis": {"orient": "bottom", "values": [-4, -3, -2, -1, 0, 1, 2, 3, 4], "labelPadding": 16, "titlePadding": 25, "grid": true, "gridDash": [6, 5], "gridColor": "#c4c4c4", "gridWidth": 1, "title": "True glucose rates of change [mg.dL⁻¹.min⁻¹]"}},
            "y": {"field": "y", "type": "quantitative", "scale": {"domain": [-4, 4], "nice": false, "zero": false},
                  "axis": {"orient": "left", "values": [-4, -3, -2, -1, 0, 1, 2, 3, 4], "labelPadding": 22, "titlePadding": 23, "grid": true, "gridDash": [6, 5], "gridColor": "#c4c4c4", "gridWidth": 1, "title": "Predicted glucose rates of change [mg.dL⁻¹.min⁻¹]"}},
            "color": {
              "field": "c", "type": "nominal",
              "scale": {"domain": ["AP", "BE", "EP"], "range": ["#00b300", "#ffbf00", "#ff0000"]},
              "legend": {"orient": "none", "legendX": 414, "legendY": 10}
            }
          }
        },
        {
          "data": {"name": "rz"},
          "mark": {"type": "line", "color": "black", "strokeWidth": 2.8},
          "encoding": {"detail": {"field": "s"}, "order": {"field": "o"}}
        },
        {
          "data": {"name": "rbox"},
          "mark": {"type": "line", "color": "#444", "strokeWidth": 1},
          "encoding": {"order": {"field": "o"}}
        },
        {
          "data": {"name": "rlab"},
          "mark": {"type": "text", "font": "Liberation Serif", "fontSize": 37, "fontWeight": "bold", "align": "center", "baseline": "middle", "color": "black"},
          "encoding": {"text": {"field": "t"}}
        }
      ]
    }
  ],
  "config": {
    "view": {"stroke": "#222", "strokeWidth": 1.5},
    "font": "Liberation Serif",
    "axis": {
      "labelFont": "Liberation Serif", "labelFontSize": 29, "labelColor": "black",
      "titleFont": "Liberation Serif", "titleFontSize": 31, "titleFontWeight": "normal", "titleColor": "black",
      "tickColor": "#8a8a8a", "tickWidth": 1, "tickSize": -12,
      "labelPadding": 20, "titlePadding": 10, "domain": false, "grid": false
    },
    "title": {"font": "Liberation Serif", "fontSize": 31, "fontWeight": "normal", "color": "black"},
    "legend": {
      "title": null,
      "fillColor": "white", "strokeColor": "#333", "strokeWidth": 1.5,
      "padding": 9, "rowPadding": 10, "symbolType": "circle", "symbolSize": 190, "symbolStrokeWidth": 0,
      "labelFont": "Liberation Serif", "labelFontSize": 30, "labelColor": "black", "labelOffset": 4,
      "cornerRadius": 0
    }
  }
}
